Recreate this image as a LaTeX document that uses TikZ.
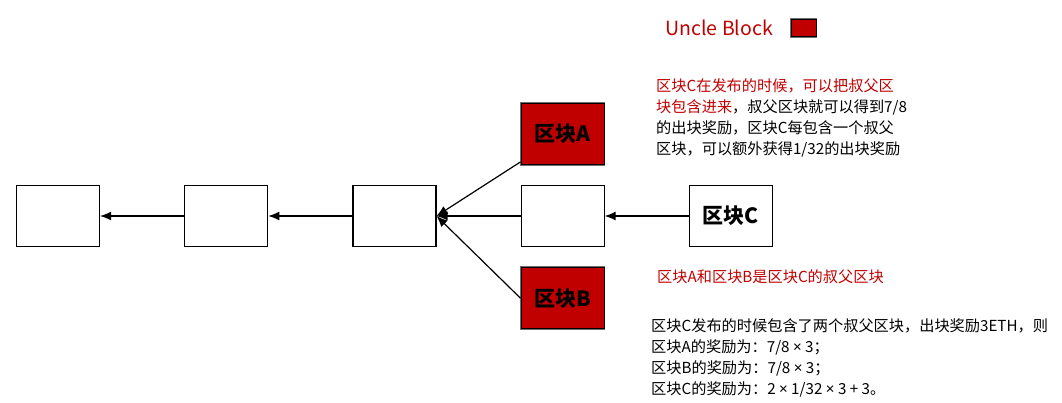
\documentclass[tikz,border=0pt]{standalone}
\usepackage{fontspec}
\setmainfont{Noto Sans CJK SC}
\newfontfamily\latinfont{Noto Sans}
\usepackage{tikz}
\usetikzlibrary{arrows.meta, positioning}
\definecolor{myred}{RGB}{192,0,0}
\definecolor{mygray}{RGB}{110,110,110}
\tikzset{
  block/.style={rectangle, draw=black, fill=white,
    minimum width=83pt, minimum height=61pt, inner sep=0pt,
    font=\fontsize{21}{24}\selectfont\bfseries, line width=1.2pt},
  uncleblock/.style={block, fill=myred,
    preaction={draw=mygray, line width=2.6pt}},
  arrow/.style={-{Latex[length=11pt,width=9pt]}, line width=1.2pt, color=black},
  note/.style={anchor=north west, align=left, inner sep=0pt,
    font=\fontsize{15.2}{21}\selectfont}
}
\newcommand{\bytimes}{{\latinfont ×}}

\begin{document}
\begin{tikzpicture}[x=1pt, y=-1pt]
  \useasboundingbox (0,0) rectangle (1062,402);

  % Main chain
  \node[block] (b1) at (58,216) {};
  \node[block, right=84pt of b1] (b2) {};
  \node[block, right=84pt of b2] (b3) {};
  \node[block, right=84pt of b3] (b4) {};
  \node[block, right=84pt of b4] (bC) {区块C};

  % Uncle blocks
  \node[uncleblock, above=20pt of b4] (bA) {区块A};
  \node[uncleblock, below=20pt of b4] (bB) {区块B};

  % Links
  \draw[arrow] (b2) -- (b1);
  \draw[arrow] (b3) -- (b2);
  \draw[arrow] (b4) -- (b3);
  \draw[arrow] ([yshift=3pt]bA.south west) -- (b3.east);
  \draw[arrow] (bB.west) -- (b3.east);
  \draw[arrow] (bC) -- (b4);

  % Legend
  \node[anchor=west, text=myred, font=\fontsize{19.5}{22}\selectfont] (uncle) at (662,28) {Uncle Block};
  \node[rectangle, fill=myred, draw=black, line width=1.2pt,
    preaction={draw=mygray, line width=2.6pt},
    minimum width=25pt, minimum height=17pt, right=14pt of uncle] (legend) {};

  % Notes
  \node[note] (rule) at (656,78) {\textcolor{myred}{区块C在发布的时候，可以把叔父区}\\
    \textcolor{myred}{块包含进来}，叔父区块就可以得到7/8\\
    的出块奖励，区块C每包含一个叔父\\
    区块，可以额外获得1/32的出块奖励};
  \node[note, text=myred] (uncles) at (657,269) {区块A和区块B是区块C的叔父区块};
  \node[note] (reward) at (651,318) {区块C发布的时候包含了两个叔父区块，出块奖励3ETH，则\\
    区块A的奖励为：7/8 \bytimes{} 3；\\
    区块B的奖励为：7/8 \bytimes{} 3；\\
    区块C的奖励为：2 \bytimes{} 1/32 \bytimes{} 3 + 3。};
\end{tikzpicture}
\end{document}
